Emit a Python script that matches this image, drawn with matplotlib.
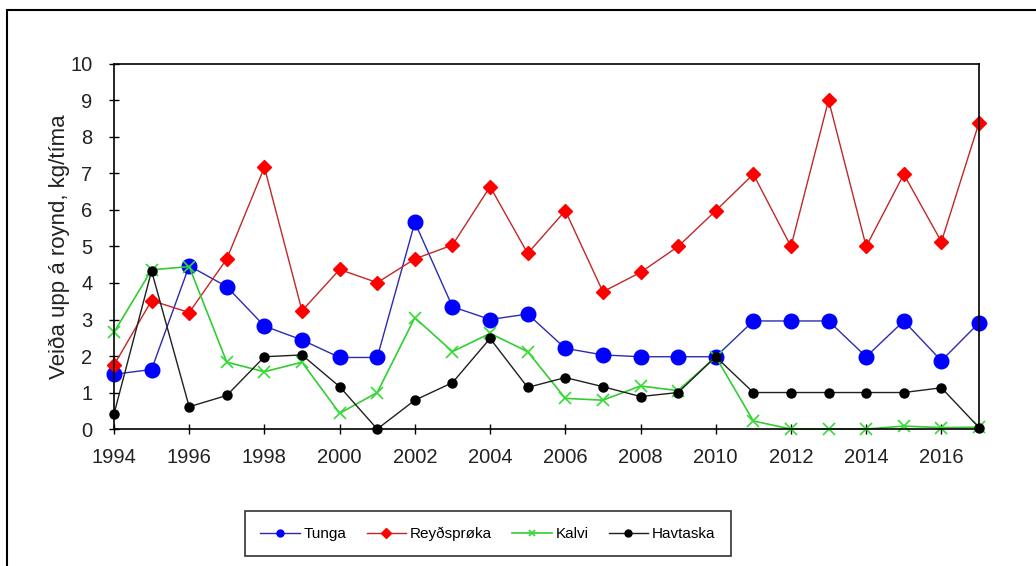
import matplotlib.pyplot as plt
from matplotlib.patches import Rectangle

years = list(range(1994, 2018))

tunga = [1.50, 1.63, 4.47, 3.90, 2.82, 2.44, 1.96, 1.96, 5.66, 3.35, 3.00, 3.15,
         2.21, 2.03, 1.98, 1.98, 1.98, 2.96, 2.96, 2.96, 1.98, 2.96, 1.87, 2.91]
reydsproka = [1.75, 3.52, 3.19, 4.66, 7.17, 3.24, 4.37, 4.01, 4.66, 5.04, 6.64, 4.81,
              5.98, 3.76, 4.29, 5.00, 5.98, 6.98, 5.00, 9.01, 5.00, 6.98, 5.13, 8.39]
kalvi = [2.65, 4.36, 4.45, 1.83, 1.57, 1.83, 0.43, 1.00, 3.05, 2.12, 2.62, 2.12,
         0.84, 0.79, 1.18, 1.05, 1.98, 0.22, 0.00, 0.00, 0.00, 0.08, 0.04, 0.05]
havtaska = [0.41, 4.33, 0.61, 0.92, 1.98, 2.03, 1.16, 0.00, 0.79, 1.27, 2.48, 1.14,
            1.41, 1.16, 0.89, 1.00, 1.98, 1.00, 1.00, 1.00, 1.00, 1.00, 1.13, 0.04]

xticks = list(range(1994, 2017, 2))
yticks = list(range(0, 11))

plt.rcParams['font.family'] = ['Liberation Sans', 'DejaVu Sans']

fig = plt.figure(figsize=(10.36, 5.66), dpi=100)
ax = fig.add_axes([0.110, 0.242, 0.835, 0.645])

ax.plot(years, tunga, color='#2b2bb0', lw=1, marker='o', ms=10.5,
        mfc='#0000ff', mec='#0000ff', label='Tunga', clip_on=False)
ax.plot(years, reydsproka, color='#c02828', lw=1, marker='D', ms=7,
        mfc='#ff0000', mec='#ff0000', label='Reyðsprøka', clip_on=False)
ax.plot(years, kalvi, color='#33cc33', lw=1.2, marker='x', ms=9, mew=1.2,
        mfc='#33dd33', mec='#33dd33', label='Kalvi', clip_on=False)
ax.plot(years, havtaska, color='#202020', lw=1, marker='o', ms=6.5,
        mfc='black', mec='black', label='Havtaska', clip_on=False)

ax.set_xlim(1994, 2017)
ax.set_ylim(0, 10)
ax.set_xticks(xticks)
ax.set_yticks(yticks)
ax.tick_params(direction='inout', length=7, width=1, labelsize=14.5,
               labelcolor='#222222')
ax.tick_params(axis='x', pad=10)
ax.tick_params(axis='y', pad=12)
for s in ax.spines.values():
    s.set_linewidth(1.2)
ax.set_ylabel('Veiða upp á roynd, kg/tíma', fontsize=16, color='#222222',
              labelpad=0)

leg = fig.legend(loc='center', bbox_to_anchor=(0.471, 0.057), ncol=4,
                 fontsize=11, frameon=True, fancybox=False, edgecolor='black',
                 handlelength=2.6, handletextpad=0.25, columnspacing=1.3,
                 borderpad=1.0)
leg.get_frame().set_linewidth(1.2)
for h in leg.legend_handles:
    h.set_markersize(5)

# outer chart frame
fig.patches.append(Rectangle((0.007, -0.1), 1.2, 1.082, transform=fig.transFigure,
                             fill=False, edgecolor='black', lw=1.5))

fig.savefig('out.png', dpi=100)
